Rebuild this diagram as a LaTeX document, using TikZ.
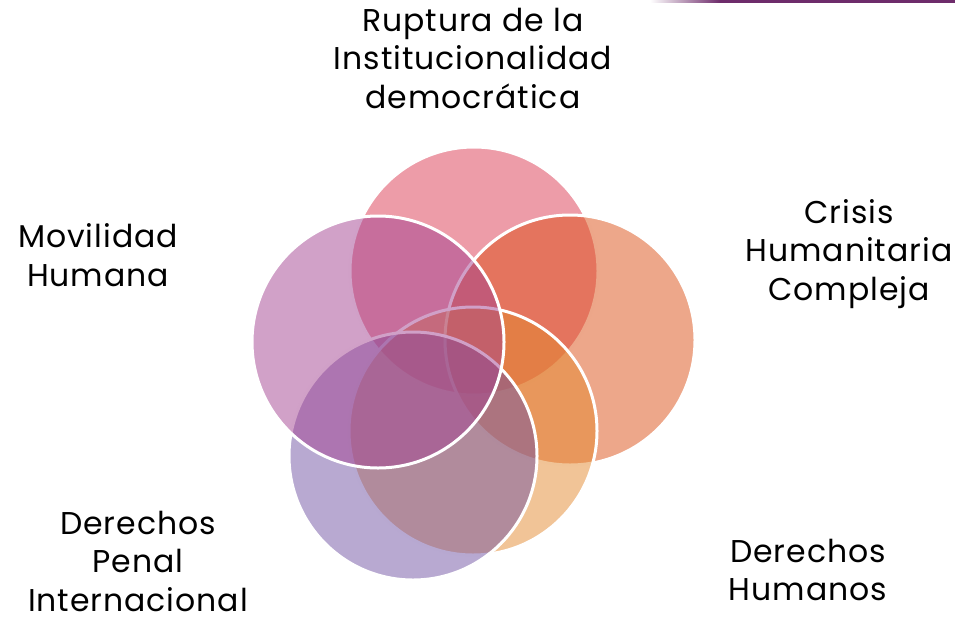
\documentclass[tikz,border=0pt]{standalone}
\usepackage{fontspec}
\setmainfont{Poppins}[LetterSpace=3]
\begin{document}
\begin{tikzpicture}[x=1pt,y=-1pt,
  circ/.style={circle, draw=white, line width=3pt, fill opacity=0.5, inner sep=0pt},
  lbl/.style={align=center, font=\fontsize{31.5}{38.5}\selectfont, text=black, inner sep=0pt}]
\definecolor{cTop}{RGB}{219,57,81}
\definecolor{cRight}{RGB}{219,79,21}
\definecolor{cBR}{RGB}{227,137,47}
\definecolor{cBL}{RGB}{113,83,163}
\definecolor{cLeft}{RGB}{163,67,145}
\definecolor{purp}{RGB}{110,44,107}
\useasboundingbox (0,0) rectangle (955,624);
% top-right decorative line
\shade[left color=white, right color=purp] (650,0) rectangle (720,2.5);
\fill[purp] (720,0) rectangle (955,2.5);
% circles
\node[circ, fill=cTop, minimum size=248pt] (ctop) at (474,271) {};
\node[circ, fill=cRight, minimum size=250pt] (cright) at (570,340) {};
\node[circ, fill=cBR, minimum size=248pt] (cbr) at (473,431) {};
\node[circ, fill=cBL, minimum size=248pt] (cbl) at (413,456) {};
\node[circ, fill=cLeft, minimum size=252pt] (cleft) at (378,342) {};
% labels
\node[lbl] (ttop) at (473,58) {Ruptura de la\\Institucionalidad\\democrática};
\node[lbl] (tleft) at (98,255) {Movilidad\\Humana};
\node[lbl] (tright) at (849,254) {Crisis\\Humanitaria\\Compleja};
\node[lbl] (tbr) at (808,570) {Derechos\\Humanos};
\node[lbl] (tbl) at (138,561) {Derechos\\Penal\\Internacional};
\end{tikzpicture}
\end{document}
